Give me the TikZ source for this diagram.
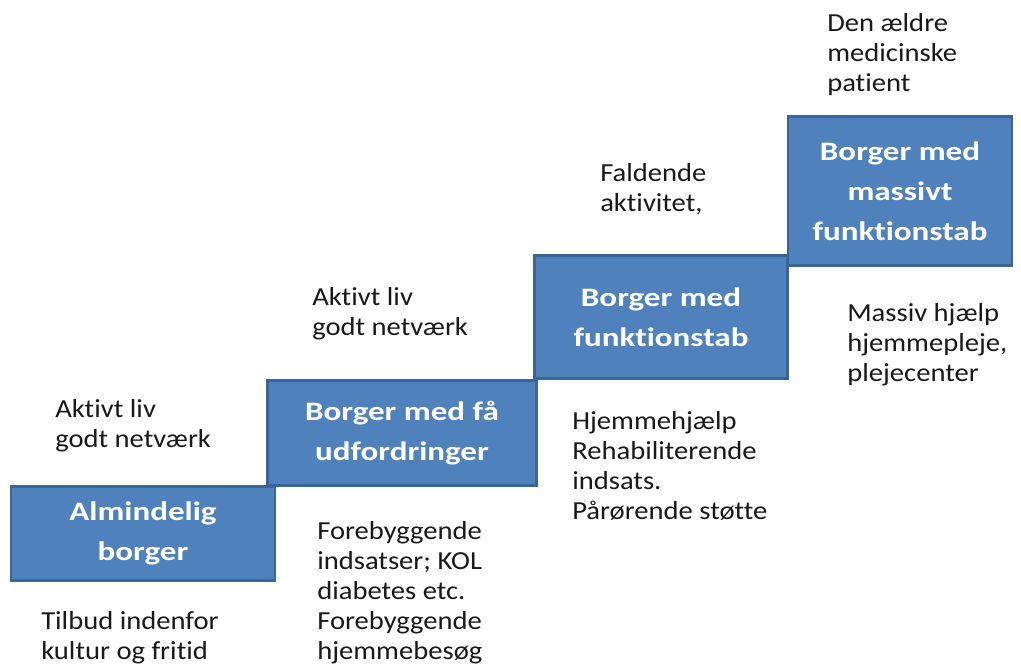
\documentclass[tikz,border=0pt]{standalone}
\usepackage{fontspec}
\setmainfont[FakeStretch=1.1, Ligatures=NoCommon]{Carlito}
\newfontfamily\stepfont[FakeStretch=1.24, Ligatures=NoCommon]{Carlito}
\definecolor{stepfill}{HTML}{4F81BD}
\definecolor{stepline}{HTML}{3A6697}
\tikzset{
  stepbox/.style={draw=stepline, line width=2.2pt, fill=stepfill, text=white,
    align=center, inner sep=0pt,
    font=\stepfont\bfseries\fontsize{20}{30}\selectfont},
  note/.style={anchor=north west, align=left, inner sep=0pt, text=black!90,
    font=\fontsize{19.5}{22.5}\selectfont}
}
\begin{document}
\begin{tikzpicture}[x=0.75pt, y=-0.75pt]
  \useasboundingbox[fill=white] (0,0) rectangle (1021,664);
  % the four steps
  \draw
    (143,533.5) node[stepbox, minimum width=198pt, minimum height=71pt] (step1){Almindelig\\borger}
    (402,433) node[stepbox, minimum width=202pt, minimum height=79pt] (step2){Borger med få\\udfordringer}
    (661,317) node[stepbox, minimum width=190pt, minimum height=92pt] (step3){Borger med\\funktionstab}
    (900,191) node[stepbox, minimum width=168pt, minimum height=112pt] (step4){Borger med\\massivt\\funktionstab};
  % notes above and below each step
  \draw
    (55,399) node[note] (above1){Aktivt liv\\godt netværk}
    (41,611) node[note] (below1){Tilbud indenfor\\kultur og fritid}
    (312,287) node[note] (above2){Aktivt liv\\godt netværk}
    (317,521) node[note] (below2){Forebyggende\\indsatser; KOL\\diabetes etc.\\Forebyggende\\hjemmebesøg}
    (600,163) node[note] (above3){Faldende\\aktivitet,}
    (572,411) node[note] (below3){Hjemmehjælp\\Rehabiliterende\\indsats.\\Pårørende støtte}
    (827,13) node[note] (above4){Den ældre\\medicinske\\patient}
    (847,303) node[note] (below4){Massiv hjælp\\hjemmepleje,\\plejecenter};
\end{tikzpicture}
\end{document}
